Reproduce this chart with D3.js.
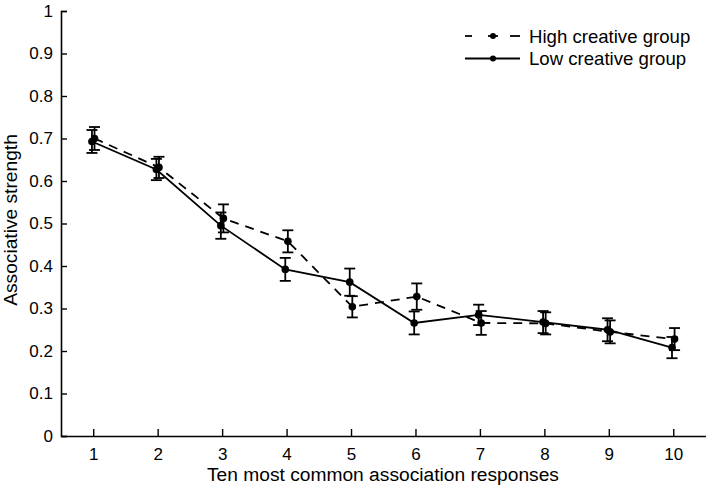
<!DOCTYPE html>
<html>
<head>
<meta charset="utf-8">
<script src="https://cdn.jsdelivr.net/npm/d3@7/dist/d3.min.js"></script>
<style>
  html, body { margin: 0; padding: 0; background: #fff; }
  svg { display: block; font-family: "Liberation Sans", Arial, sans-serif; }
</style>
</head>
<body>
<svg id="chart" width="709" height="486"></svg>
<script>
const categories = [1, 2, 3, 4, 5, 6, 7, 8, 9, 10];
const highMean = [0.700, 0.632, 0.512, 0.458, 0.304, 0.328, 0.266, 0.265, 0.245, 0.228];
const highErr  = [0.027, 0.025, 0.033, 0.026, 0.025, 0.031, 0.028, 0.026, 0.027, 0.026];
const lowMean  = [0.693, 0.627, 0.495, 0.392, 0.362, 0.266, 0.285, 0.268, 0.250, 0.208];
const lowErr   = [0.027, 0.025, 0.031, 0.027, 0.032, 0.027, 0.024, 0.026, 0.027, 0.025];
const yTicks = [0, 0.1, 0.2, 0.3, 0.4, 0.5, 0.6, 0.7, 0.8, 0.9, 1];
const seriesNames = ["High creative group", "Low creative group"];
const xLabel = "Ten most common association responses";
const yLabel = "Associative strength";

const W = 709, H = 486;
const margin = {left: 61, right: 3.5, top: 11, bottom: 50};
const svg = d3.select("#chart");

const x = d3.scaleLinear().domain([0.5, 10.5]).range([margin.left, W - margin.right]);
const y = d3.scaleLinear().domain([0, 1]).range([H - margin.bottom, margin.top]);

const tickFont = 17;
const labelFont = 19.2;
const legendFont = 18.6;

// Axes
const xAxis = d3.axisBottom(x).tickValues(categories).tickFormat(d3.format("d"))
  .tickSizeInner(-7).tickSizeOuter(0).tickPadding(12);
const gx = svg.append("g").attr("transform", `translate(0,${y(0)})`).call(xAxis);
gx.select(".domain").attr("stroke-width", 1.6);
gx.selectAll(".tick line").attr("stroke-width", 1.4);
gx.selectAll("text").attr("font-size", tickFont).attr("fill", "#000");

const yAxis = d3.axisLeft(y).tickValues(yTicks).tickFormat(d => d === 0 ? "0" : (d === 1 ? "1" : d3.format(".1f")(d)))
  .tickSizeInner(-6).tickSizeOuter(-6).tickPadding(8);
const gy = svg.append("g").attr("transform", `translate(${x(0.5)},0)`).call(yAxis);
gy.select(".domain").attr("stroke-width", 1.6);
gy.selectAll(".tick line").attr("stroke-width", 1.4);
gy.selectAll("text").attr("font-size", tickFont).attr("fill", "#000");

// Axis labels
svg.append("text").attr("x", 383).attr("y", 480.5)
  .attr("text-anchor", "middle").attr("font-size", labelFont).text(xLabel);
svg.append("text").attr("transform", `translate(16.5,220) rotate(-90)`)
  .attr("text-anchor", "middle").attr("font-size", labelFont).text(yLabel);

// Series
const series = [
  {name: seriesNames[0], mean: highMean, err: highErr, dash: "9,7", dx: 0.02},
  {name: seriesNames[1], mean: lowMean, err: lowErr, dash: null, dx: -0.02}
];

const capHalf = 5.5;
series.forEach(s => {
  const pts = categories.map((c, i) => ({x: c + s.dx, m: s.mean[i], e: s.err[i]}));
  const line = d3.line().x(d => x(d.x)).y(d => y(d.m));
  svg.append("path").datum(pts).attr("d", line)
    .attr("fill", "none").attr("stroke", "#000").attr("stroke-width", 1.8)
    .attr("stroke-dasharray", s.dash);
  const g = svg.append("g");
  pts.forEach(d => {
    g.append("line").attr("x1", x(d.x)).attr("x2", x(d.x))
      .attr("y1", y(d.m - d.e)).attr("y2", y(d.m + d.e))
      .attr("stroke", "#000").attr("stroke-width", 1.8);
    [d.m - d.e, d.m + d.e].forEach(v => {
      g.append("line").attr("x1", x(d.x) - capHalf).attr("x2", x(d.x) + capHalf)
        .attr("y1", y(v)).attr("y2", y(v))
        .attr("stroke", "#000").attr("stroke-width", 1.8);
    });
    g.append("circle").attr("cx", x(d.x)).attr("cy", y(d.m)).attr("r", 3.8).attr("fill", "#000");
  });
});

// Legend
const legend = svg.append("g");
series.forEach((s, i) => {
  const ly = 36 + i * 22.5;
  if (s.dash) {
    legend.append("line").attr("x1", 465).attr("x2", 472).attr("y1", ly).attr("y2", ly)
      .attr("stroke", "#000").attr("stroke-width", 1.8);
    legend.append("line").attr("x1", 510).attr("x2", 520).attr("y1", ly).attr("y2", ly)
      .attr("stroke", "#000").attr("stroke-width", 1.8);
    legend.append("line").attr("x1", 488).attr("x2", 498).attr("y1", ly).attr("y2", ly)
      .attr("stroke", "#000").attr("stroke-width", 1.8);
  } else {
    legend.append("line").attr("x1", 465).attr("x2", 520).attr("y1", ly).attr("y2", ly)
      .attr("stroke", "#000").attr("stroke-width", 1.8);
  }
  legend.append("circle").attr("cx", 493).attr("cy", ly).attr("r", 3).attr("fill", "#000");
  legend.append("text").attr("x", 529).attr("y", ly + 6.5).attr("font-size", legendFont).text(s.name);
});
</script>
</body>
</html>
